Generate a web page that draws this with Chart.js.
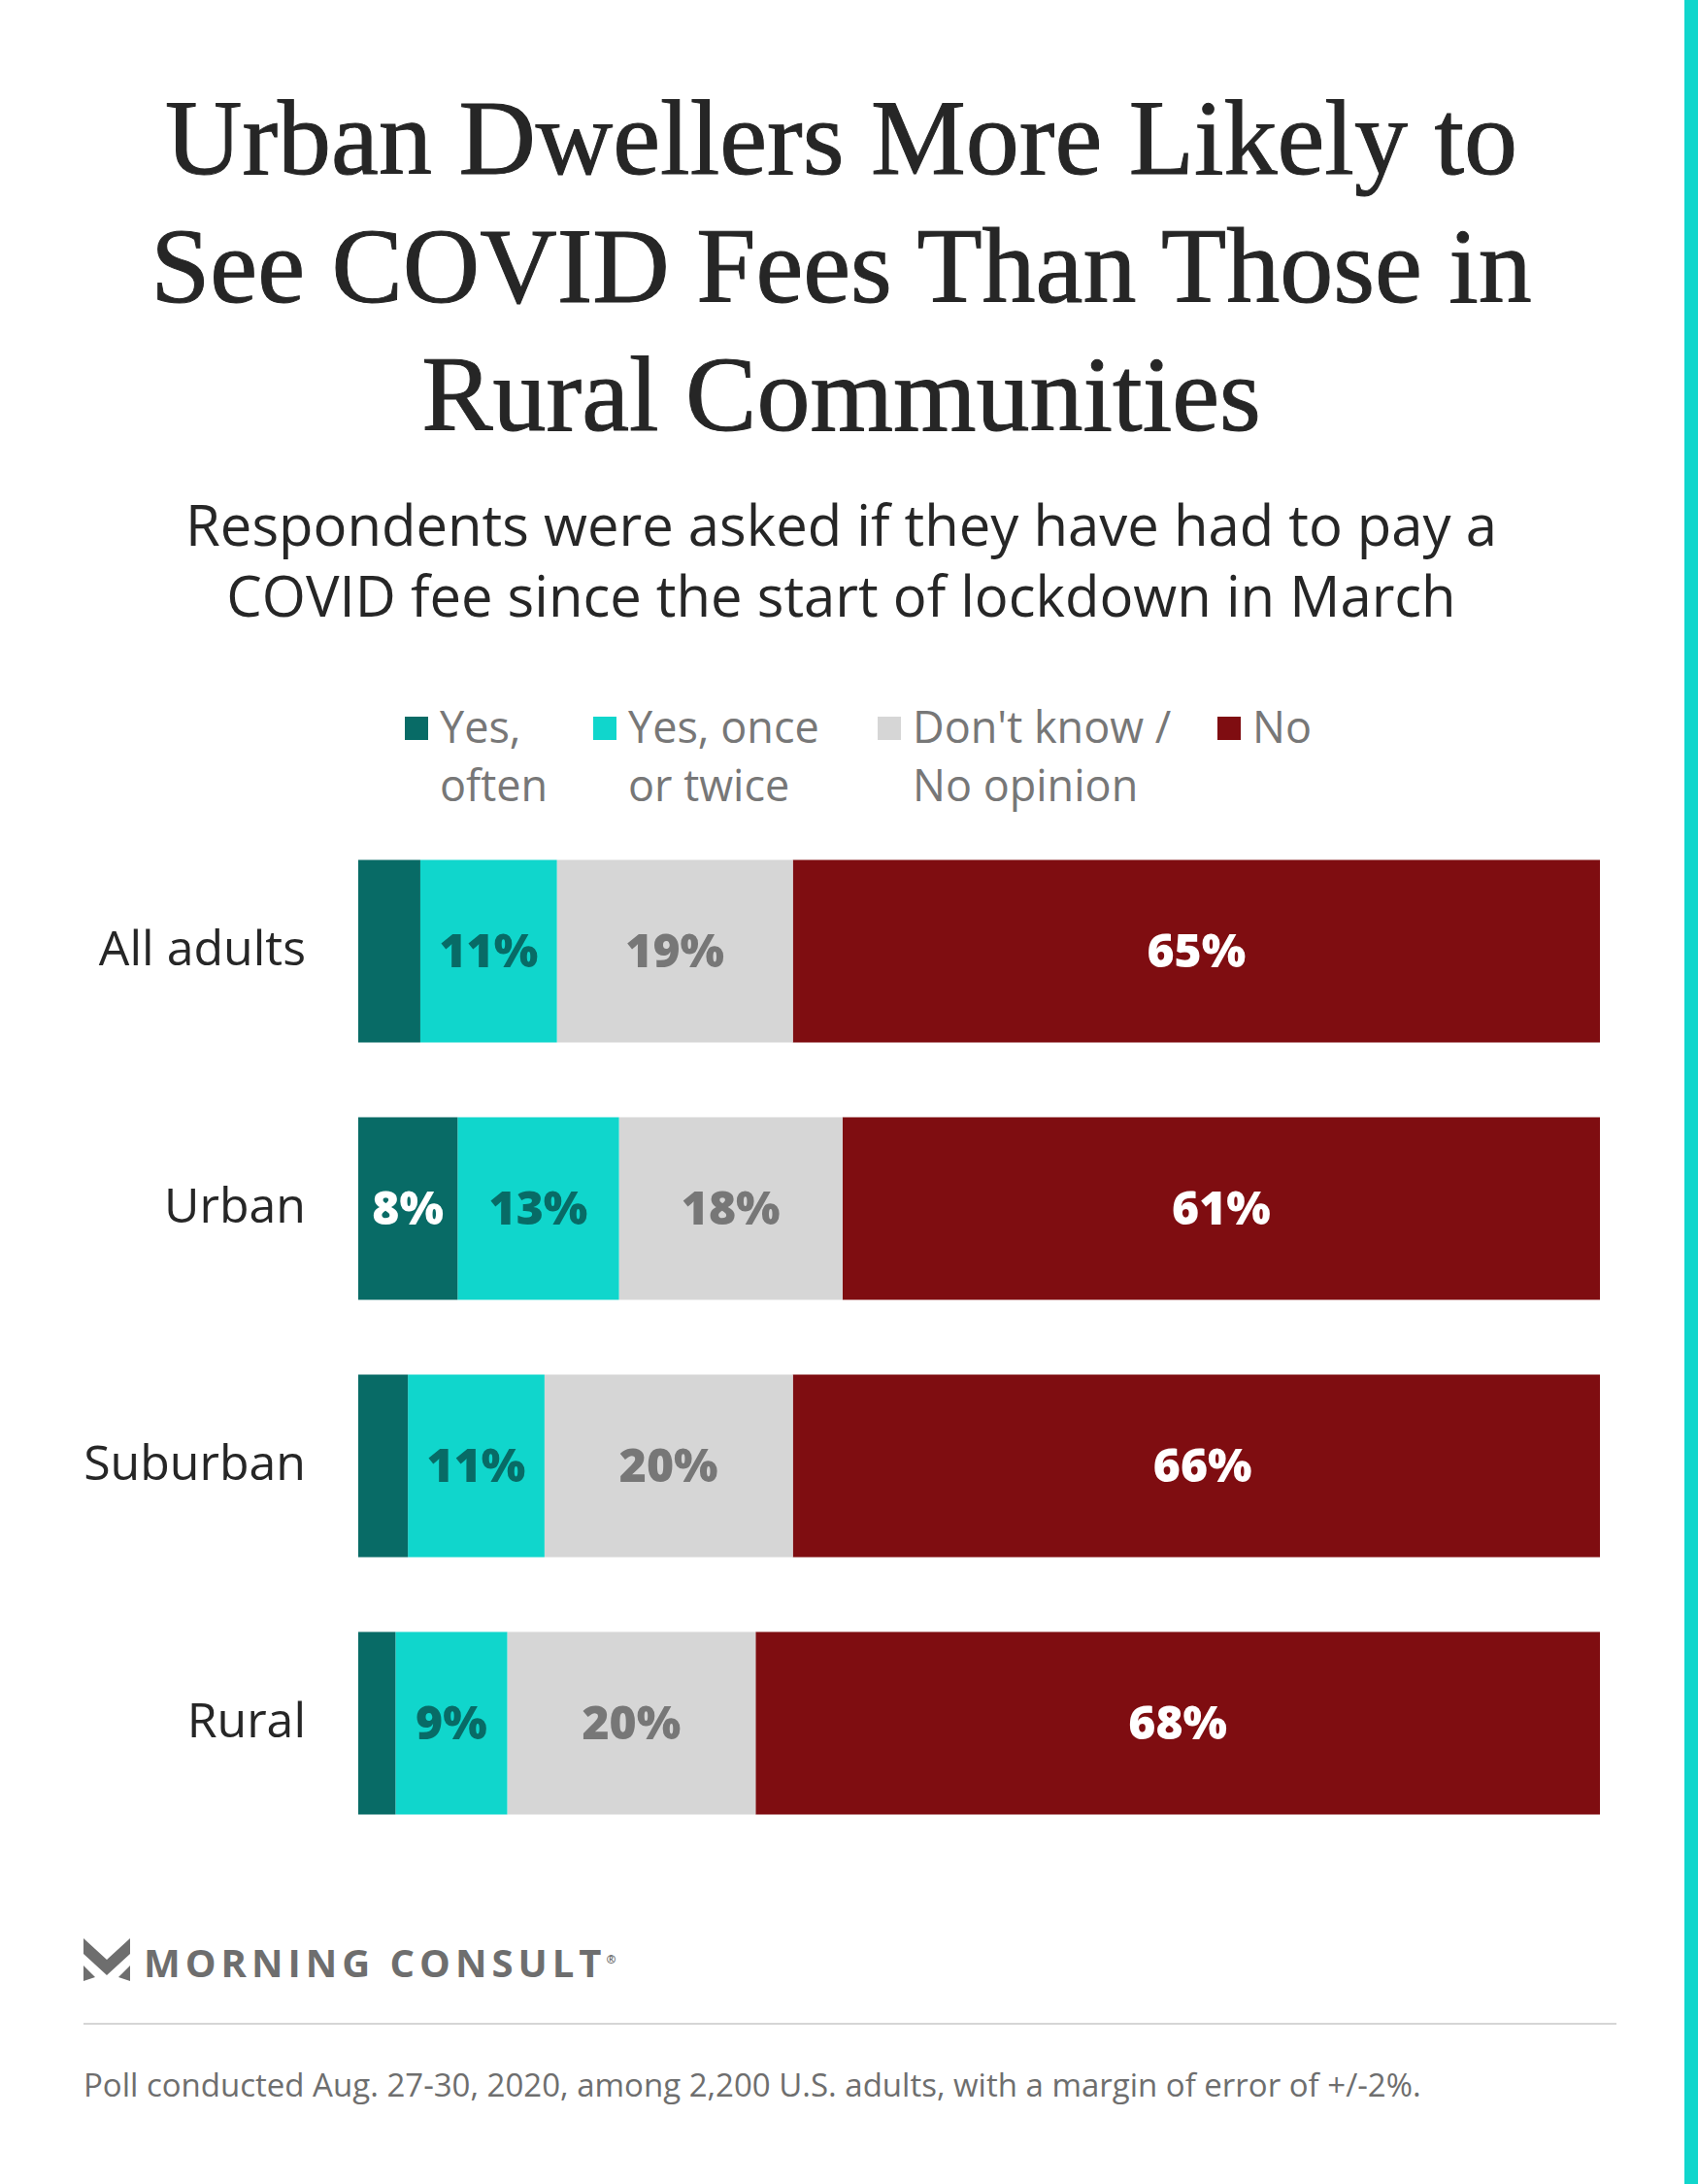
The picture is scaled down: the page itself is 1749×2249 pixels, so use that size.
<!DOCTYPE html>
<html>
<head>
<meta charset="utf-8">
<script src="https://cdn.jsdelivr.net/npm/chart.js@4/dist/chart.umd.min.js"></script>
<style>
body { margin: 0; width: 1749px; height: 2249px; background: #fff; position: relative; overflow: hidden; font-family: "Open Sans", sans-serif; }
#title { position: absolute; top: 76px; left: 0; width: 1733px; text-align: center; font-family: "Liberation Serif", serif; font-size: 110px; line-height: 132px; color: #262626; -webkit-text-stroke: 1px #262626; }
#subtitle { position: absolute; top: 503px; left: 0; width: 1733px; text-align: center; font-size: 58px; line-height: 73px; color: #262626; }
#legend { position: absolute; top: 718px; left: 415px; font-size: 45px; line-height: 60px; color: #777; }
.lg { position: absolute; white-space: nowrap; }
.sw { position: absolute; width: 24px; height: 24px; left: -36px; top: 20px; }
#chartBox { position: absolute; left: 0; top: 771px; width: 1700px; height: 1212px; }
#logo { position: absolute; left: 86px; top: 1993px; font-size: 40px; font-weight: bold; letter-spacing: 5px; color: #6e6e6e; }
#rule { position: absolute; left: 86px; top: 2083px; width: 1579px; height: 2px; background: #d6d6d6; }
#note { position: absolute; left: 86px; top: 2124px; font-size: 33px; color: #6e6e6e; }
#strip { position: absolute; right: 0; top: 0; width: 14px; height: 2249px; background: #10d6cc; }
</style>
</head>
<body>
<div id="title">Urban Dwellers More Likely to<br>See COVID Fees Than Those in<br>Rural Communities</div>
<div id="subtitle">Respondents were asked if they have had to pay a<br>COVID fee since the start of lockdown in March</div>
<div id="legend">
  <div class="lg" style="left:38px"><span class="sw" style="background:#086b66"></span>Yes,<br>often</div>
  <div class="lg" style="left:232px"><span class="sw" style="background:#10d6cc"></span>Yes, once<br>or twice</div>
  <div class="lg" style="left:525px"><span class="sw" style="background:#d6d6d6"></span>Don't know /<br>No opinion</div>
  <div class="lg" style="left:875px"><span class="sw" style="background:#7f0d11"></span>No</div>
</div>
<div id="chartBox"><canvas id="chart"></canvas></div>
<div id="logo"><svg width="48" height="44" viewBox="0 0 48 44" style="vertical-align:-4px;margin-right:14px"><path d="M0 0 L24 22 L48 0 L48 16 L24 38 L0 16 Z" fill="#6e6e6e"/><path d="M0 28 L12 40 L0 44 Z M48 28 L36 40 L48 44 Z" fill="#6e6e6e"/></svg>MORNING CONSULT<sup style="font-size:12px">®</sup></div>
<div id="rule"></div>
<div id="note">Poll conducted Aug. 27-30, 2020, among 2,200 U.S. adults, with a margin of error of +/-2%.</div>
<div id="strip"></div>
<script>
const categories = ["All adults", "Urban", "Suburban", "Rural"];
const yesOften = [5, 8, 4, 3];
const yesOnce = [11, 13, 11, 9];
const dontKnow = [19, 18, 20, 20];
const no = [65, 61, 66, 68];
const seriesNames = ["Yes, often", "Yes, once or twice", "Don't know / No opinion", "No"];
const colors = ["#086b66", "#10d6cc", "#d6d6d6", "#7f0d11"];
const labelColors = ["#ffffff", "#086b66", "#777777", "#ffffff"];
const minLabel = 6;

// draw percentages inside the bars
const barLabels = {
    id: "barLabels",
    afterDatasetsDraw(chart) {
        const ctx = chart.ctx;
        ctx.save();
        ctx.font = "800 48px 'Open Sans', sans-serif";
        ctx.textAlign = "center";
        ctx.textBaseline = "middle";
        chart.data.datasets.forEach((ds, i) => {
            chart.getDatasetMeta(i).data.forEach((bar, j) => {
                if (ds.data[j] < minLabel) return;
                ctx.fillStyle = labelColors[i];
                ctx.fillText(ds.data[j] + "%", (bar.base + bar.x) / 2, bar.y + 3);
            });
        });
        ctx.restore();
    }
};

const data = [yesOften, yesOnce, dontKnow, no];
new Chart(document.getElementById("chart"), {
    type: "bar",
    data: {
        labels: categories,
        datasets: data.map((d, i) => ({
            label: seriesNames[i],
            data: d,
            backgroundColor: colors[i],
            borderWidth: 0,
            barPercentage: 0.71,
            categoryPercentage: 1
        }))
    },
    options: {
        indexAxis: "y",
        responsive: true,
        maintainAspectRatio: false,
        animation: false,
        layout: { padding: { right: 52, top: 0, bottom: 0 } },
        plugins: { legend: { display: false }, tooltip: { enabled: false } },
        scales: {
            x: { stacked: true, min: 0, max: 100, display: false },
            y: {
                stacked: true,
                grid: { display: false },
                border: { display: false },
                ticks: { color: "#262626", font: { size: 50, family: "'Open Sans', sans-serif" }, padding: 46 },
                afterFit(scale) { scale.width = 369; }
            }
        }
    },
    plugins: [barLabels]
});
</script>
</body>
</html>
